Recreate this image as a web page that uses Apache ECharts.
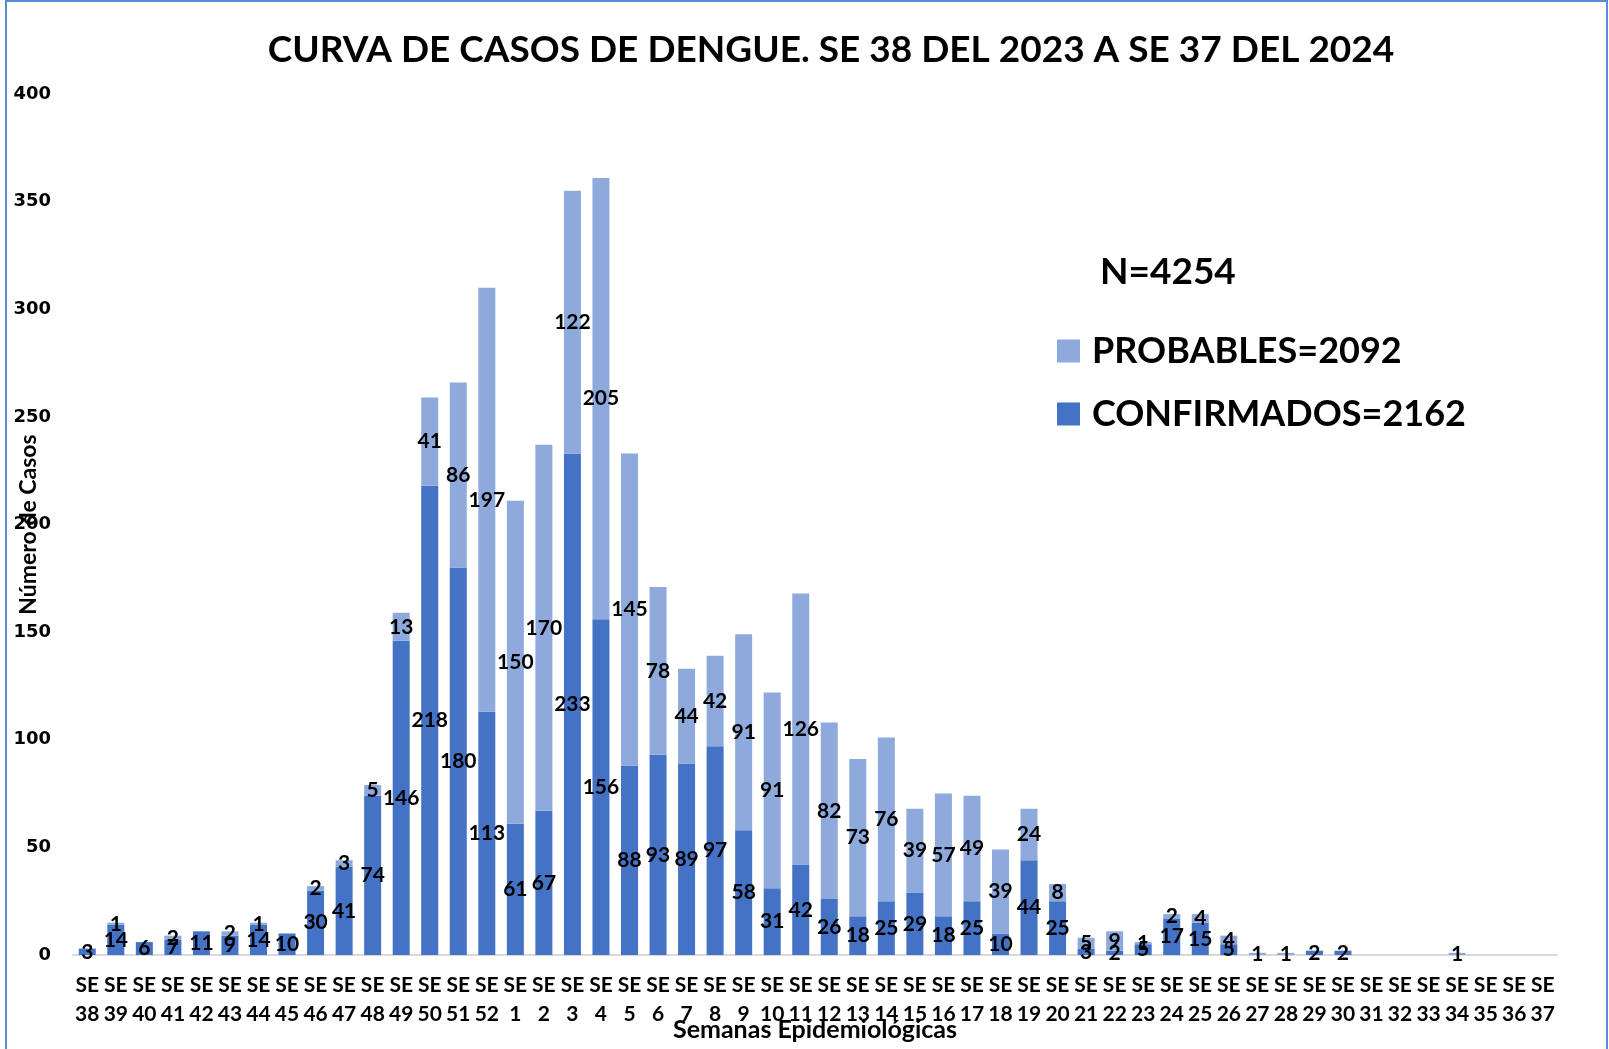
<!DOCTYPE html>
<html>
<head>
<meta charset="utf-8">
<script src="https://cdn.jsdelivr.net/npm/echarts@6/dist/echarts.min.js"></script>
<style>
  html, body { margin: 0; padding: 0; background: #fff; }
  #chart { width: 1609px; height: 1049px; }
</style>
</head>
<body>
<div id="chart"></div>
<script>
const weeks = [
  '38', '39', '40', '41', '42', '43', '44', '45', '46', '47', '48', '49', '50', '51', '52',
  '1', '2', '3', '4', '5', '6', '7', '8', '9', '10', '11', '12', '13', '14', '15', '16', '17', '18', '19', '20',
  '21', '22', '23', '24', '25', '26', '27', '28', '29', '30', '31', '32', '33', '34', '35', '36', '37'
];
const confirmados = [
  3, 14, 6, 7, 11, 9, 14, 10, 30, 41, 74, 146, 218, 180, 113,
  61, 67, 233, 156, 88, 93, 89, 97, 58, 31, 42, 26, 18, 25, 29, 18, 25, 10, 44, 25,
  3, 2, 5, 17, 15, 5, 0, 0, 2, 2, 0, 0, 0, 0, 0, 0, 0
];
const probables = [
  0, 1, 0, 2, 0, 2, 1, 0, 2, 3, 5, 13, 41, 86, 197,
  150, 170, 122, 205, 145, 78, 44, 42, 91, 91, 126, 82, 73, 76, 39, 57, 49, 39, 24, 8,
  5, 9, 1, 2, 4, 4, 1, 1, 0, 0, 0, 0, 0, 1, 0, 0, 0
];
const yTicks = { min: 0, max: 400, interval: 50 };

const sum = arr => arr.reduce((a, b) => a + b, 0);
const nameProb = 'PROBABLES=' + sum(probables);
const nameConf = 'CONFIRMADOS=' + sum(confirmados);
const total = sum(probables) + sum(confirmados);

const FONT = 'Lato, "Open Sans", sans-serif';

const barLabel = {
  show: true,
  position: 'inside',
  color: '#000',
  fontFamily: FONT,
  fontWeight: 'bold',
  fontSize: 21,
  formatter: p => (p.value ? p.value : '')
};

const chart = echarts.init(document.getElementById('chart'), null, { renderer: 'canvas' });

chart.setOption({
  animation: false,
  title: {
    text: 'CURVA DE CASOS DE DENGUE. SE 38 DEL 2023 A SE 37 DEL 2024',
    left: 826,
    textAlign: 'center',
    top: 27,
    textStyle: { fontFamily: FONT, fontWeight: 'bold', fontSize: 37, color: '#000' }
  },
  legend: {
    orient: 'vertical',
    left: 1052,
    top: 328,
    padding: 5,
    itemWidth: 23,
    itemHeight: 23,
    itemGap: 27,
    icon: 'rect',
    data: [nameProb, nameConf],
    textStyle: { fontFamily: FONT, fontWeight: 'bold', fontSize: 36, color: '#000', padding: [0, 0, 0, 7] }
  },
  graphic: [
    {
      type: 'text',
      left: 1100,
      top: 254,
      style: { text: 'N=' + total, fontFamily: FONT, fontWeight: 'bold', fontSize: 37, fill: '#000' }
    },
    {
      type: 'rect',
      shape: { x: 6, y: 1, width: 1601, height: 1100 },
      style: { fill: 'none', stroke: '#5b8bd6', lineWidth: 2 },
      silent: true
    }
  ],
  grid: { left: 73, right: 52, top: 94, bottom: 94, outerBoundsMode: 'none', containLabel: false },
  xAxis: {
    type: 'category',
    data: weeks.map(w => 'SE\n' + w),
    name: 'Semanas Epidemiológicas',
    nameLocation: 'middle',
    nameGap: 62,
    nameMoveOverlap: false,
    nameTextStyle: { fontFamily: FONT, fontWeight: 'bold', fontSize: 25, color: '#000' },
    axisLine: { lineStyle: { color: '#d9d9d9', width: 2 } },
    axisTick: { show: false },
    axisLabel: {
      interval: 0,
      margin: 16,
      lineHeight: 29,
      fontFamily: FONT,
      fontWeight: 'bold',
      fontSize: 21,
      color: '#000'
    }
  },
  yAxis: {
    type: 'value',
    min: yTicks.min,
    max: yTicks.max,
    interval: yTicks.interval,
    name: 'Número de Casos',
    nameLocation: 'middle',
    nameGap: 33,
    nameRotate: 90,
    nameMoveOverlap: false,
    nameTextStyle: { fontFamily: FONT, fontWeight: 'bold', fontSize: 23, color: '#000' },
    axisLine: { show: false },
    axisTick: { show: false },
    splitLine: { show: false },
    axisLabel: {
      margin: 22,
      fontFamily: '"DejaVu Sans", sans-serif',
      fontWeight: 'bold',
      fontSize: 18,
      color: '#000'
    }
  },
  series: [
    {
      name: nameConf,
      type: 'bar',
      stack: 'total',
      barWidth: 17,
      data: confirmados,
      itemStyle: { color: '#4472c4' },
      label: barLabel
    },
    {
      name: nameProb,
      type: 'bar',
      stack: 'total',
      barWidth: 17,
      data: probables,
      itemStyle: { color: '#8eaadc' },
      label: barLabel
    }
  ]
});
</script>
</body>
</html>
